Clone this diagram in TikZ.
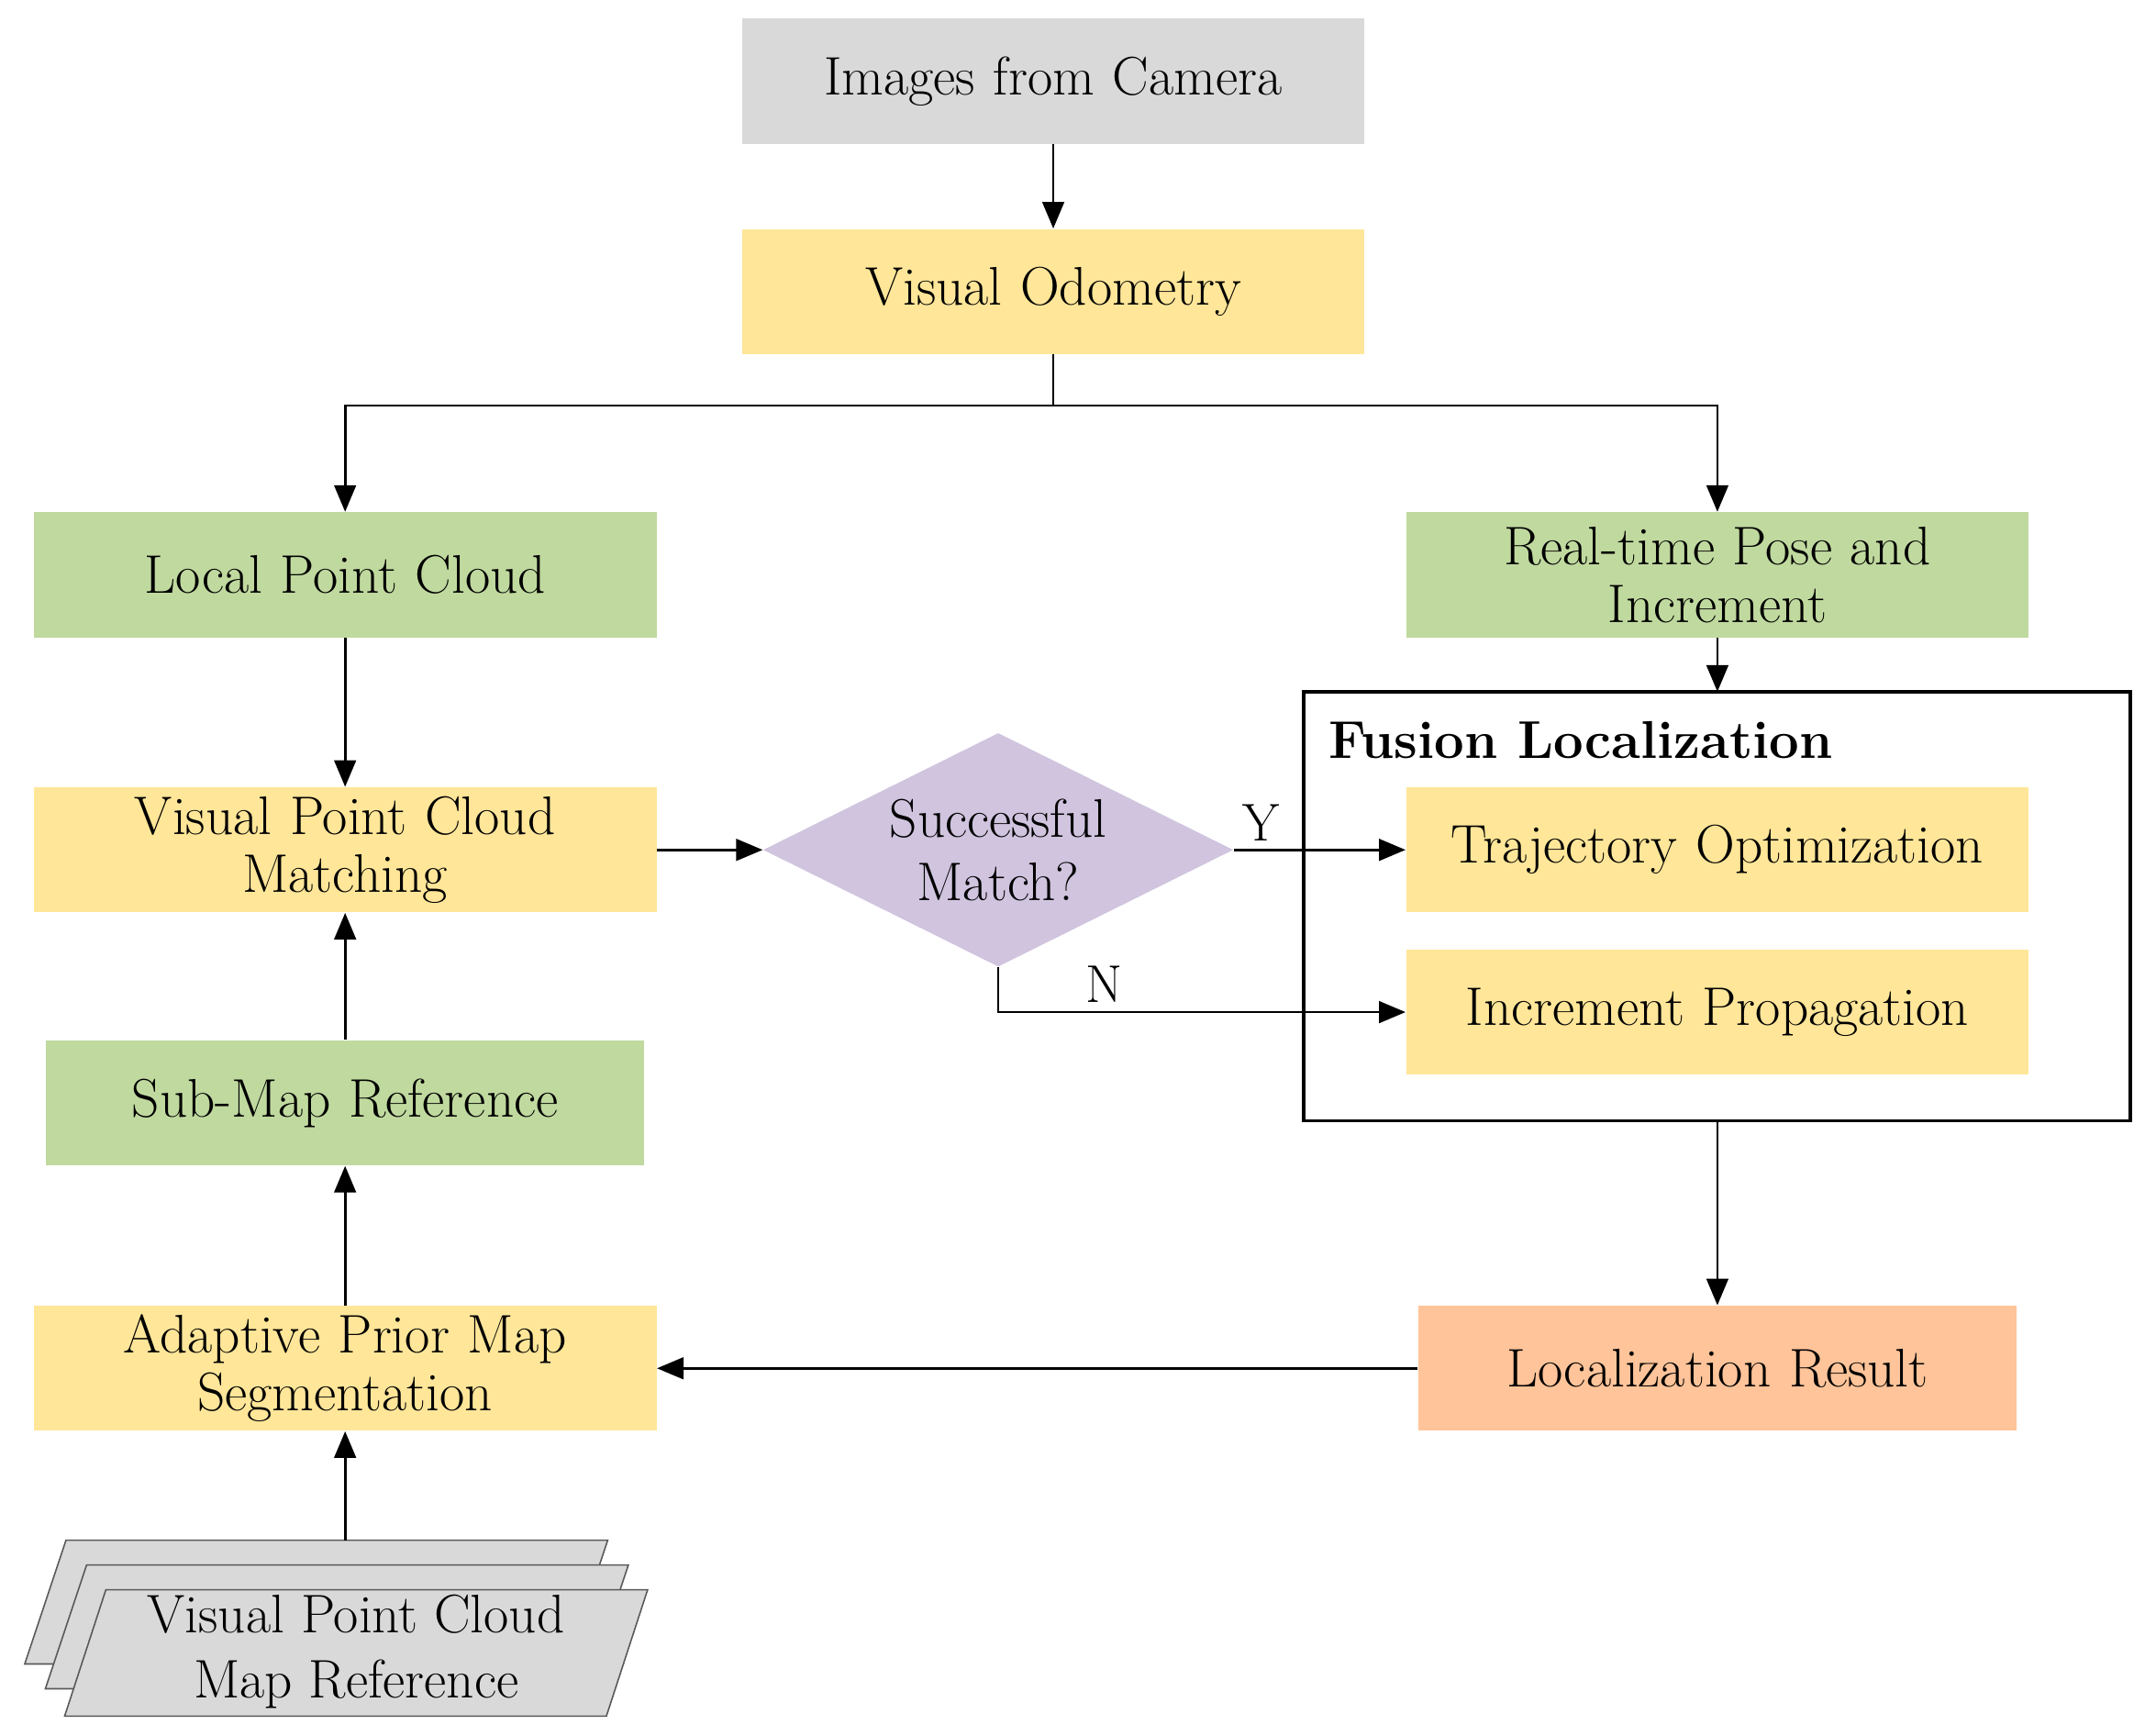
\documentclass[tikz,border=0pt]{standalone}
\usetikzlibrary{shapes.geometric,arrows.meta}
\definecolor{cgray}{HTML}{D9D9D9}
\definecolor{cyel}{HTML}{FFE699}
\definecolor{cgreen}{HTML}{C0D99F}
\definecolor{cpur}{HTML}{D0C4DF}
\definecolor{corg}{HTML}{FFC499}
\begin{document}
\begin{tikzpicture}[x=0.02cm,y=-0.02cm,
  box/.style={draw=none,minimum height=1.82cm,text width=8.6cm,align=center,inner sep=0pt,font=\fontsize{22.5}{24}\selectfont},
  arr/.style={-{Triangle[length=11pt,width=9pt]},line width=1pt},
  ln/.style={line width=1pt}]
\useasboundingbox (0,0) rectangle (1568,1262);
\node[box,fill=cgray,minimum width=9.06cm] (cam) at (766,59) {Images from Camera};
\node[box,fill=cyel,minimum width=9.06cm] (vo) at (766,212) {Visual Odometry};
\node[box,fill=cgreen,minimum width=9.06cm] (lpc) at (251,418) {Local Point Cloud};
\node[box,fill=cgreen,minimum width=9.06cm] (rt) at (1249,418) {Real-time Pose and\\ Increment};
\draw[line width=1.5pt] (948,503) rectangle (1549,815);
\coordinate (fbt) at (1249,503);
\coordinate (fbb) at (1249,815);
\node[anchor=west,font=\fontsize{22}{22}\selectfont\bfseries] (fl) at (960,538) {Fusion Localization};
\node[box,fill=cyel,minimum width=9.06cm] (vpcm) at (251,618) {Visual Point Cloud\\ Matching};
\node[diamond,fill=cpur,minimum width=6.84cm,minimum height=3.4cm,inner sep=0pt,aspect=2,align=center,font=\fontsize{22.5}{26}\selectfont] (dm) at (726,618) {Successful\\ Match?};
\node[box,fill=cyel,minimum width=9.06cm] (to) at (1249,618) {Trajectory Optimization};
\node[box,fill=cyel,minimum width=9.06cm] (ip) at (1249,736) {Increment Propagation};
\node[box,fill=cgreen,minimum width=8.7cm] (smr) at (251,802) {Sub-Map Reference};
\node[box,fill=cyel,minimum width=9.06cm] (apm) at (251,995) {Adaptive Prior Map\\ Segmentation};
\node[box,fill=corg,minimum width=8.7cm] (lr) at (1249,995) {Localization Result};
\foreach \dx/\dy in {0/0,15/18} {
  \draw[fill=cgray,draw=gray!70!black,line width=0.6pt] (18+\dx,1210+\dy) -- (48+\dx,1120+\dy) -- (442+\dx,1120+\dy) -- (412+\dx,1210+\dy) -- cycle;}
\draw[fill=cgray,draw=gray!70!black,line width=0.6pt] (47,1248) -- (77,1156) -- (471,1156) -- (441,1248) -- cycle;
\node[align=center,font=\fontsize{22.5}{27}\selectfont] (vpmr) at (259,1201) {Visual Point Cloud\\ Map Reference};
\coordinate (pt) at (251,1120);
\draw[arr] (cam) -- (vo);
\draw[ln] (vo.south) -- (766,295) coordinate (j);
\draw[arr] (j) -| (lpc.north);
\draw[arr] (j) -| (rt.north);
\draw[arr] (rt) -- (fbt);
\draw[arr] (lpc) -- (vpcm);
\draw[arr] (vpcm) -- (dm.west);
\draw[arr] (dm.east) -- (to.west) node[pos=0.16,above,font=\fontsize{22}{22}\selectfont] {Y};
\draw[arr] (dm.south) |- (ip.west) node[pos=0.63,above,font=\fontsize{22}{22}\selectfont] {N};
\draw[arr] (smr) -- (vpcm);
\draw[arr] (apm) -- (smr);
\draw[arr] (pt) -- (apm.south);
\draw[arr] (fbb) -- (lr);
\draw[arr] (lr) -- (apm);
\end{tikzpicture}
\end{document}
